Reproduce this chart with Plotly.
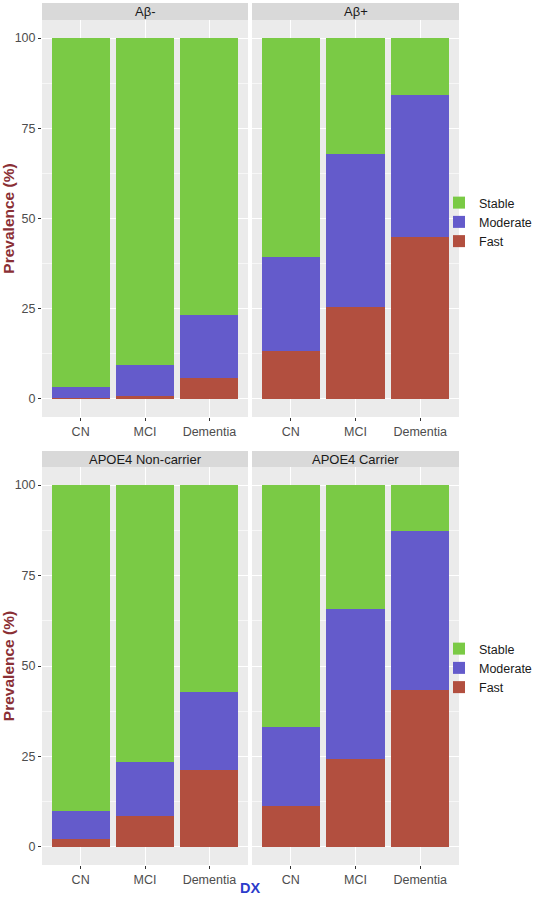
import plotly.graph_objects as go

# ---------------- data ----------------
categories = ["CN", "MCI", "Dementia"]
panel_titles = ["Aβ-", "Aβ+", "APOE4 Non-carrier", "APOE4 Carrier"]
series_names = ["Fast", "Moderate", "Stable"]

fast_abneg = [0.3, 0.9, 5.7]
moderate_abneg = [3.0, 8.5, 17.7]
stable_abneg = [96.7, 90.6, 76.6]

fast_abpos = [13.3, 25.5, 45.0]
moderate_abpos = [26.0, 42.5, 39.3]
stable_abpos = [60.7, 32.0, 15.7]

fast_noncarrier = [2.2, 8.6, 21.2]
moderate_noncarrier = [7.7, 15.0, 21.7]
stable_noncarrier = [90.1, 76.4, 57.1]

fast_carrier = [11.4, 24.2, 43.4]
moderate_carrier = [21.8, 41.6, 43.8]
stable_carrier = [66.8, 34.2, 12.8]

y_ticks = [0, 25, 50, 75, 100]

# ---------------- styling ----------------
W, H = 537, 897
colors = {"Fast": "#B24F3F", "Moderate": "#645BCB", "Stable": "#7ACA45"}
FONT = "Liberation Sans, Arial, sans-serif"
panel_bg = "#EBEBEB"
strip_bg = "#D9D9D9"

def px_x(p):
    return p / W

def px_y(p):
    return 1 - p / H

# panel pixel boxes (left, right, top, bottom)
boxes = [
    (42, 248, 20, 417),
    (252, 459, 20, 417),
    (42, 248, 467, 865),
    (252, 459, 467, 865),
]
strips = [(3, 20), (3, 20), (451, 467), (451, 467)]

panel_data = [
    (fast_abneg, moderate_abneg, stable_abneg),
    (fast_abpos, moderate_abpos, stable_abpos),
    (fast_noncarrier, moderate_noncarrier, stable_noncarrier),
    (fast_carrier, moderate_carrier, stable_carrier),
]

fig = go.Figure()

for i, (vals, box) in enumerate(zip(panel_data, boxes)):
    n = i + 1
    xa = "x" if n == 1 else f"x{n}"
    ya = "y" if n == 1 else f"y{n}"
    legend_name = "legend" if i == 0 else ("legend2" if i == 2 else None)
    for name, v in zip(series_names, vals):
        fig.add_trace(go.Bar(
            x=categories, y=v, name=name,
            marker=dict(color=colors[name], line=dict(width=0)),
            xaxis=xa, yaxis=ya,
            showlegend=legend_name is not None,
            legend=legend_name if legend_name else "legend",
            hovertemplate="%{x}: %{y:.1f}%<extra>" + name + "</extra>",
        ))

layout = dict(
    width=W, height=H,
    margin=dict(l=0, r=0, t=0, b=0, autoexpand=False),
    paper_bgcolor="white",
    plot_bgcolor=panel_bg,
    barmode="stack",
    bargap=0.1,
    font=dict(family=FONT, size=12.5, color="#4D4D4D"),
    shapes=[],
    annotations=[],
)

for i, box in enumerate(boxes):
    n = i + 1
    l, r, t, b = box
    xkey = "xaxis" if n == 1 else f"xaxis{n}"
    ykey = "yaxis" if n == 1 else f"yaxis{n}"
    left_col = i in (0, 2)
    layout[xkey] = dict(
        domain=[px_x(l), px_x(r)],
        anchor="y" if n == 1 else f"y{n}",
        type="category",
        categoryorder="array", categoryarray=categories,
        range=[-0.6, 2.6],
        showgrid=True, gridcolor="white", gridwidth=1.2,
        ticks="outside", ticklen=3, tickcolor="#333333", tickwidth=1,
        tickfont=dict(family=FONT, size=12.5, color="#4D4D4D"),
        showline=False, zeroline=False, fixedrange=True, automargin=False,
    )
    layout[ykey] = dict(
        domain=[px_y(b), px_y(t)],
        anchor="x" if n == 1 else f"x{n}",
        range=[-5, 105],
        tickvals=y_ticks,
        showticklabels=left_col,
        ticks="outside" if left_col else "",
        ticklen=3, tickcolor="#333333", tickwidth=1,
        tickfont=dict(family=FONT, size=12.5, color="#4D4D4D"),
        showgrid=True, gridcolor="white", gridwidth=1.2,
        minor=dict(tickvals=[12.5, 37.5, 62.5, 87.5], showgrid=True,
                   gridcolor="#F7F7F7", gridwidth=0.6, ticks=""),
        zeroline=False, showline=False, fixedrange=True, automargin=False,
    )
    if left_col:
        layout[ykey]["title"] = dict(
            text="<b>Prevalence (%)</b>",
            font=dict(family=FONT, size=15.5, color="#8A2F35"),
            standoff=6,
        )
    st, sb = strips[i]
    layout["shapes"].append(dict(
        type="rect", xref="paper", yref="paper",
        x0=px_x(l), x1=px_x(r), y0=px_y(sb), y1=px_y(st),
        fillcolor=strip_bg, line=dict(width=0), layer="below",
    ))
    layout["annotations"].append(dict(
        text=panel_titles[i], xref="paper", yref="paper",
        x=px_x((l + r) / 2), y=px_y((st + sb) / 2),
        xanchor="center", yanchor="middle", showarrow=False,
        font=dict(family=FONT, size=13, color="#1A1A1A"),
    ))

layout["annotations"].append(dict(
    text="<b>DX</b>", xref="paper", yref="paper",
    x=px_x(250), y=px_y(888), xanchor="center", yanchor="middle",
    showarrow=False, font=dict(family=FONT, size=14.5, color="#2B3CCB"),
))

legend_common = dict(
    xanchor="left", yanchor="middle", traceorder="reversed",
    bgcolor="rgba(0,0,0,0)", borderwidth=0,
    font=dict(family=FONT, size=12.5, color="#1A1A1A"),
    tracegroupgap=0, itemclick=False, itemdoubleclick=False,
)
layout["legend"] = dict(x=px_x(439), y=px_y(222), **legend_common)
layout["legend2"] = dict(x=px_x(439), y=px_y(668), **legend_common)

fig.update_layout(**layout)
fig.write_html(
    "out.html",
    config={"displayModeBar": False},
    post_script="document.body.style.margin='0';document.body.style.padding='0';",
)
